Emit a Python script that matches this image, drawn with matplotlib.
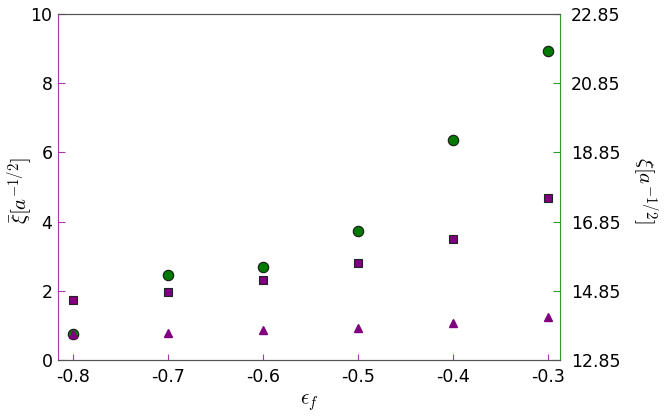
import matplotlib
matplotlib.use("Agg")
import matplotlib.pyplot as plt

# data
eps_f = [-0.8, -0.7, -0.6, -0.5, -0.4, -0.3]
xi_bar_sq = [1.73, 1.97, 2.31, 2.79, 3.51, 4.69]   # squares, left axis
xi_bar_tri = [0.74, 0.79, 0.87, 0.93, 1.08, 1.25]  # triangles, left axis
xi_circ = [13.60, 15.32, 15.53, 16.58, 19.20, 21.77]  # circles, right axis

left_ticks = [0, 2, 4, 6, 8, 10]
right_ticks = [12.85, 14.85, 16.85, 18.85, 20.85, 22.85]
x_ticks = [-0.8, -0.7, -0.6, -0.5, -0.4, -0.3]

purple = "#800080"
spine_purple = "#a63aa6"
green = "#007a00"
spine_green = "#2e9a2e"

plt.rcParams["mathtext.fontset"] = "cm"
plt.rcParams["font.family"] = "DejaVu Sans"

fig, ax = plt.subplots(figsize=(6.7, 4.2), dpi=100)
fig.subplots_adjust(left=0.0866, right=0.8358, top=0.9667, bottom=0.1429)
ax2 = ax.twinx()

# circles go behind the purple markers
ax2.set_zorder(ax.get_zorder() - 1)
ax.patch.set_visible(False)

ax2.plot(eps_f, xi_circ, "o", color=green, markeredgecolor="#1a1a1a",
         markeredgewidth=0.8, markersize=7.5, linestyle="none")
ax.plot(eps_f, xi_bar_sq, "s", color=purple, markeredgecolor="#222222",
        markeredgewidth=0.8, markersize=6, linestyle="none")
ax.plot(eps_f, xi_bar_tri, "^", color=purple, markeredgecolor=purple,
        markersize=5.5, linestyle="none")

ax.set_xlim(-0.816, -0.287)
ax.set_ylim(0, 10)
ax2.set_ylim(12.85, 22.85)

ax.set_xticks(x_ticks)
ax.set_xticklabels([f"{v:.1f}" for v in x_ticks])
ax.set_yticks(left_ticks)
ax2.set_yticks(right_ticks)
ax2.set_yticklabels([f"{v:.2f}" for v in right_ticks])

ax.tick_params(axis="y", direction="in", length=5, color=spine_purple,
               labelsize=12.5, pad=4)
ax.tick_params(axis="x", direction="in", length=4, color=spine_purple,
               labelsize=12.5, pad=6)
ax2.tick_params(axis="y", direction="in", length=5, color=spine_green,
                labelsize=12.5, pad=8)

for a in (ax, ax2):
    a.spines["top"].set_color("#555555")
    a.spines["bottom"].set_color("#555555")
ax.spines["left"].set_color(spine_purple)
ax2.spines["left"].set_visible(False)
ax2.spines["right"].set_color(spine_green)
ax.spines["right"].set_visible(False)

ax.set_xlabel(r"$\epsilon_f$", fontsize=15, labelpad=4)
ax.set_ylabel(r"$\bar{\xi}[a^{-1/2}]$", fontsize=15, va="center")
ax.yaxis.set_label_coords(-0.076, 0.49)
ax2.set_ylabel(r"$\xi[a^{-1/2}]$", fontsize=15, rotation=270, va="center")
ax2.yaxis.set_label_coords(1.168, 0.49)

fig.savefig("out.png", dpi=100)
